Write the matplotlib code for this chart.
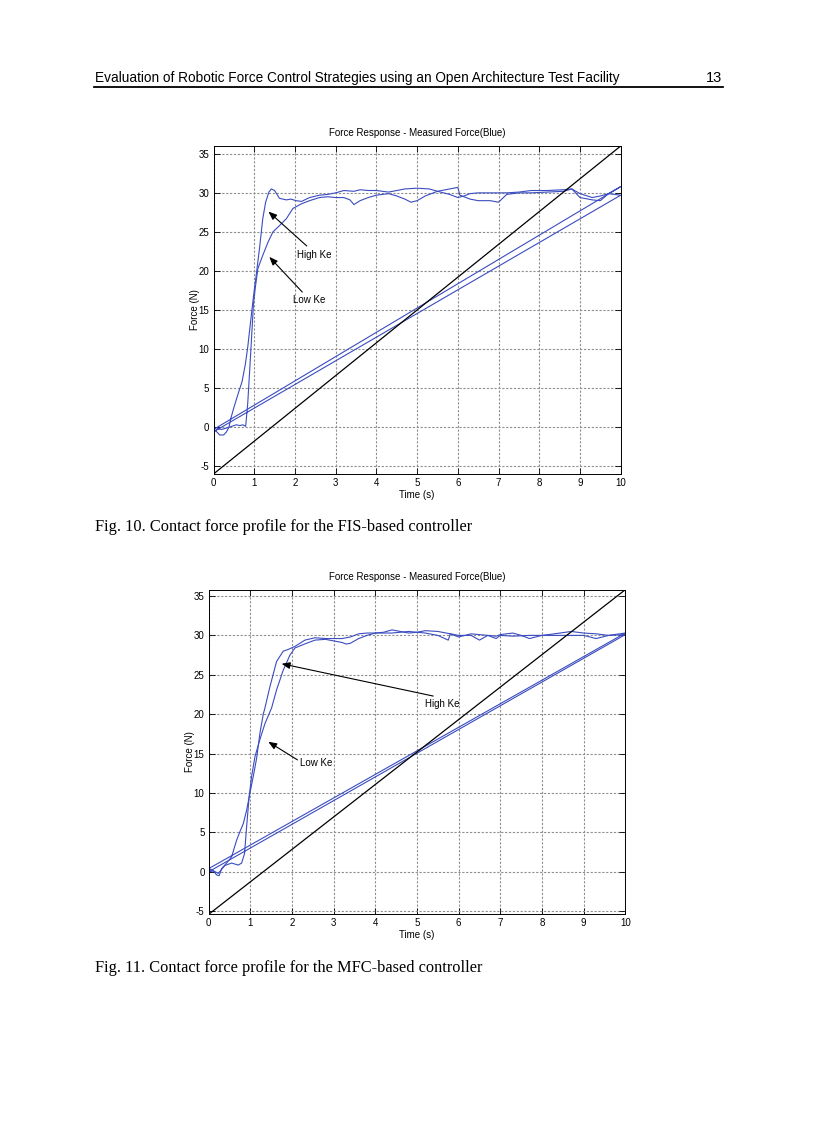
import matplotlib
matplotlib.use("Agg")
import matplotlib.pyplot as plt
import numpy as np

# ---------------- data ----------------
x_ticks = list(range(0, 11))
y_ticks = [-5, 0, 5, 10, 15, 20, 25, 30, 35]

# Fig. 10 (FIS-based controller)
f10_hi_t = [0, 0.08, 0.15, 0.25, 0.32, 0.38, 0.43, 0.5, 0.6, 0.7, 0.78, 0.84, 0.9, 0.95, 1.0, 1.05, 1.13,
            1.21, 1.28, 1.36, 1.42, 1.5, 1.56, 1.62, 1.79, 1.9, 2.03, 2.16, 2.36, 2.6, 2.8, 3.0, 3.2, 3.45,
            3.6, 3.8, 4.0, 4.3, 4.5, 4.7, 5.0, 5.3, 5.5, 5.8, 6.0, 6.15, 6.3, 6.5, 7.0, 7.2, 7.5, 7.8, 8.2,
            8.6, 8.8, 9.0, 9.3, 9.5, 9.7, 10.0]
f10_hi_F = [-0.3, -0.6, -1.0, -1.0, -0.6, 0.0, 1.2, 2.5, 4.2, 5.8, 8.0, 10.2, 13.0, 15.3, 17.5, 19.5, 22.9,
            26.7, 28.8, 30.1, 30.5, 30.3, 29.8, 29.3, 29.1, 29.2, 29.0, 28.9, 29.4, 29.7, 29.8, 30.0, 30.3, 30.2,
            30.4, 30.3, 30.3, 30.1, 30.3, 30.5, 30.6, 30.5, 30.2, 29.8, 29.4, 29.6, 29.9, 30.0, 30.0, 30.0, 30.1,
            30.3, 30.3, 30.4, 30.5, 29.9, 29.4, 29.6, 29.9, 30.8]
f10_lo_t = [0, 0.1, 0.2, 0.39, 0.56, 0.65, 0.72, 0.79, 0.84, 0.88, 0.93, 0.98, 1.03, 1.09, 1.21, 1.34, 1.46,
            1.62, 1.79, 1.95, 2.16, 2.36, 2.6, 2.8, 3.0, 3.2, 3.35, 3.45, 3.6, 3.8, 4.0, 4.3, 4.5, 4.7, 4.85,
            5.0, 5.2, 5.5, 5.7, 6.0, 6.05, 6.3, 6.5, 6.8, 7.0, 7.2, 7.5, 7.8, 8.2, 8.6, 8.8, 9.0, 9.3, 9.5,
            9.7, 10.0]
f10_lo_F = [-0.6, -0.2, -0.3, 0.0, 0.3, 0.2, 0.3, 0.1, 3.0, 6.5, 11.0, 15.7, 18.0, 20.3, 22.0, 23.7, 25.0,
            25.8, 26.7, 28.0, 28.6, 29.0, 29.4, 29.5, 29.4, 29.4, 29.1, 28.5, 29.0, 29.4, 29.7, 29.9, 29.6, 29.2,
            28.8, 29.0, 29.6, 30.2, 30.4, 30.7, 29.7, 29.2, 29.0, 29.0, 28.8, 29.8, 30.0, 30.0, 30.1, 30.2, 30.5,
            29.4, 29.1, 29.0, 29.9, 29.7]
f10_ref_t = [0, 10]
f10_ref_F = [-6.0, 36.0]

# Fig. 11 (MFC-based controller)
f11_hi_t = [0, 0.1, 0.19, 0.25, 0.31, 0.43, 0.55, 0.67, 0.75, 0.83, 0.91, 0.99, 1.07, 1.15, 1.23, 1.31, 1.35,
            1.47, 1.63, 1.79, 1.9, 2.07, 2.31, 2.55, 2.8, 3.0, 3.2, 3.4, 3.6, 3.8, 4.0, 4.2, 4.4, 4.6, 4.8,
            5.0, 5.2, 5.5, 5.8, 6.0, 6.3, 6.5, 6.9, 7.0, 7.3, 7.5, 7.7, 8.0, 8.3, 8.7, 9.0, 9.3, 9.6, 10.0]
f11_hi_F = [0.4, 0.2, -0.4, -0.5, 0.4, 1.1, 1.9, 4.0, 5.1, 6.1, 7.8, 10.0, 12.1, 14.4, 17.6, 20.0, 20.8,
            23.5, 26.7, 28.0, 28.2, 28.6, 29.4, 29.7, 29.6, 29.6, 29.6, 29.8, 30.2, 30.3, 30.3, 30.4, 30.7, 30.5,
            30.3, 30.4, 30.6, 30.5, 30.2, 29.8, 30.2, 30.1, 29.9, 30.1, 30.3, 30.0, 29.6, 30.0, 30.2, 30.5, 30.3,
            30.2, 30.0, 30.3]
f11_lo_t = [0, 0.12, 0.23, 0.39, 0.55, 0.71, 0.79, 0.86, 0.91, 0.97, 1.03, 1.11, 1.23, 1.35, 1.51, 1.63, 1.79,
            1.95, 2.07, 2.3, 2.55, 2.8, 3.0, 3.2, 3.3, 3.4, 3.6, 3.8, 4.0, 4.4, 4.8, 5.2, 5.5, 5.75, 5.8, 6.0,
            6.3, 6.5, 6.7, 6.9, 7.0, 7.3, 7.7, 8.0, 8.3, 8.7, 9.0, 9.3, 9.6, 10.0]
f11_lo_F = [0.0, 0.1, -0.2, 0.8, 1.1, 0.85, 1.1, 2.3, 5.7, 9.5, 12.1, 14.6, 16.8, 18.8, 20.8, 23.1, 25.6,
            27.5, 28.4, 28.9, 29.4, 29.5, 29.3, 29.1, 28.9, 29.0, 29.6, 30.0, 30.3, 30.3, 30.5, 30.3, 30.0, 29.4,
            30.2, 30.0, 30.0, 29.4, 30.0, 29.6, 30.0, 29.9, 30.0, 30.0, 30.0, 30.0, 30.0, 29.6, 30.0, 30.1]
f11_ref_t = [0, 10]
f11_ref_F = [-5.4, 35.8]

title_txt = "Force Response - Measured Force(Blue)"
xlabel_txt = "Time (s)"
ylabel_txt = "Force (N)"

# ---------------- figure ----------------
W, H = 816, 1123
fig = plt.figure(figsize=(W / 100, H / 100), dpi=100)
fig.patch.set_facecolor("white")

def fx(px):
    return px / W

def fy(py):
    return 1 - py / H

BLUE = "#3a4cc0"
plt.rcParams["font.family"] = ["Liberation Sans", "DejaVu Sans"]
plt.rcParams["axes.unicode_minus"] = False

def make_axes(left, top, right, bottom, ylim, curves, ref, ann):
    ax = fig.add_axes([fx(left), fy(bottom), fx(right - left), (bottom - top) / H])
    ax.set_xlim(0, 10)
    ax.set_ylim(*ylim)
    ax.set_xticks(x_ticks)
    ax.set_yticks(y_ticks)
    ax.grid(True, color="#8f8f8f", linestyle=(0, (2.0, 1.5)), linewidth=0.8)
    ax.tick_params(direction="in", length=4, width=0.6, labelsize=7, top=True, right=True, pad=3)
    for s in ax.spines.values():
        s.set_linewidth(0.7)
        s.set_color("black")
    for t, F in curves:
        tt = list(t) + [t[0]]
        FF = list(F) + [F[0]]
        ax.plot(tt, FF, color=BLUE, linewidth=0.8)
    ax.plot(ref[0], ref[1], color="black", linewidth=0.9)
    for txt, xy, xytext, tpos in ann:
        ax.annotate("", xy=xy, xytext=xytext,
                    arrowprops=dict(arrowstyle="-|>,head_length=0.5,head_width=0.2", color="black", lw=0.8,
                                    shrinkA=0, shrinkB=0))
        ax.text(tpos[0], tpos[1], txt, fontsize=7, va="center", ha="left")
    ax.set_title(title_txt, fontsize=7, pad=7)
    ax.set_xlabel(xlabel_txt, fontsize=7, labelpad=1)
    ax.set_ylabel(ylabel_txt, fontsize=7, labelpad=-1)
    return ax

make_axes(213.5, 146, 620.7, 474, (-6.0, 36.0),
          [(f10_hi_t, f10_hi_F), (f10_lo_t, f10_lo_F)], (f10_ref_t, f10_ref_F),
          [("High Ke", (1.35, 27.6), (2.29, 23.2), (2.06, 22.1)),
           ("Low Ke", (1.37, 21.8), (2.18, 17.3), (1.95, 16.3))])

make_axes(208.7, 589.7, 625.3, 914.3, (-5.4, 35.8),
          [(f11_hi_t, f11_hi_F), (f11_lo_t, f11_lo_F)], (f11_ref_t, f11_ref_F),
          [("High Ke", (1.75, 26.4), (5.39, 22.3), (5.19, 21.3)),
           ("Low Ke", (1.43, 16.5), (2.13, 14.2), (2.19, 13.8))])

# header
fig.text(fx(95), fy(78), "Evaluation of Robotic Force Control Strategies using an Open Architecture Test Facility",
         fontsize=9.8, family=["Liberation Sans"], va="center", ha="left")
fig.text(fx(722), fy(78), "13", fontsize=10.5, family=["Liberation Sans"], va="center", ha="right")
fig.add_artist(plt.Line2D([fx(94), fx(723)], [fy(87), fy(87)], color="black", linewidth=1.3))

# captions
fig.text(fx(95), fy(527), "Fig. 10. Contact force profile for the FIS-based controller",
         fontsize=11.8, family=["Liberation Serif"], va="center", ha="left")
fig.text(fx(95), fy(968), "Fig. 11. Contact force profile for the MFC-based controller",
         fontsize=11.8, family=["Liberation Serif"], va="center", ha="left")

fig.savefig("out.png", dpi=100, facecolor="white")
